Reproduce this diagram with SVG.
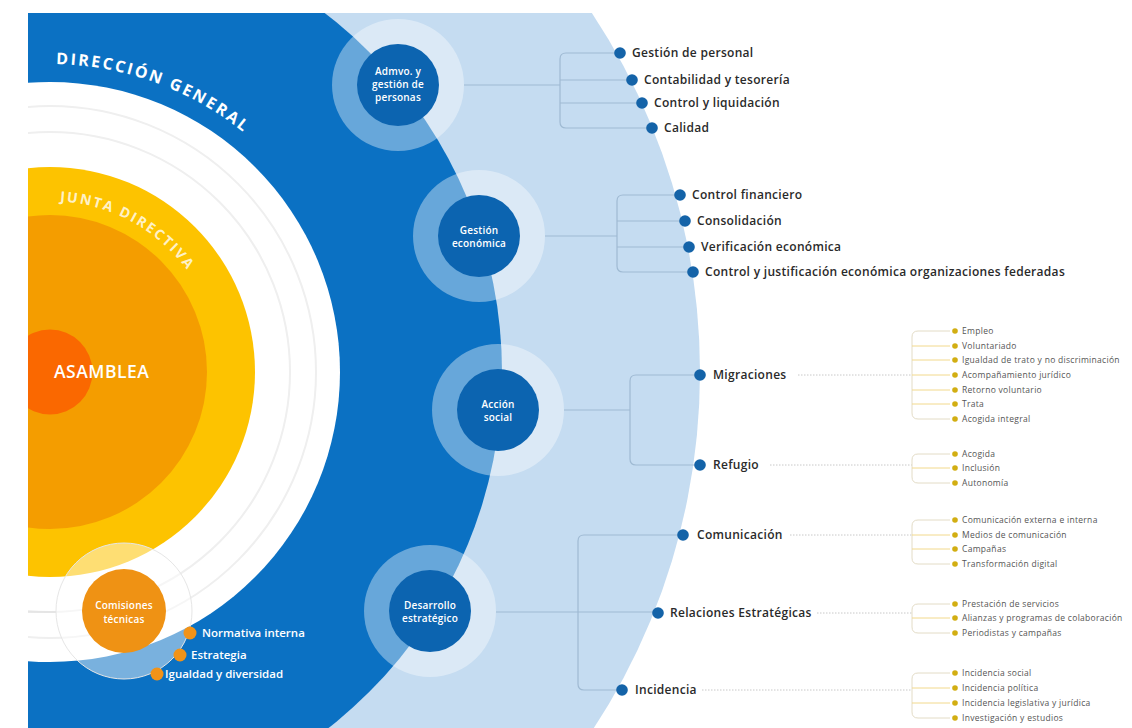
<svg xmlns="http://www.w3.org/2000/svg" width="1132" height="728" viewBox="0 0 1132 728">
<style>
.t1{font-family:"Open Sans","Liberation Sans",sans-serif;font-size:12px;font-weight:600;fill:#2a2a2a;letter-spacing:0.3px}
.t2{font-family:"Open Sans","Liberation Sans",sans-serif;font-size:8.5px;font-weight:400;fill:#555;letter-spacing:0.3px}
.tn{font-family:"Open Sans","Liberation Sans",sans-serif;font-size:10px;font-weight:600;fill:#fff;text-anchor:middle;letter-spacing:0.2px}
.tw{font-family:"Open Sans","Liberation Sans",sans-serif;font-size:11.5px;font-weight:600;fill:#fff}
.arc{font-family:"Open Sans","Liberation Sans",sans-serif;font-weight:700;fill:#fff}
.ring{fill:#fff;fill-opacity:0.38}
.core{fill:#0c64b0}
.d1{fill:#1463a8}
.d2{fill:#d2ae12}
.dc{fill:#f29318}
.l1{fill:none;stroke:#9fbad3;stroke-width:1.2}
.l2{fill:none;stroke:#c8c8c8;stroke-width:1;stroke-dasharray:1.5 1.5}
.lb{fill:none;stroke:#e3dcc6;stroke-width:1}
.lbr{fill:none;stroke:#f2d98c;stroke-width:1}
.faint{fill:none;stroke:#efefef;stroke-width:2}
</style>
<defs>
<clipPath id="frame"><rect x="28" y="13" width="1104" height="715"/></clipPath>
<path id="arcDG" d="M 50 64 A 308 308 0 0 1 339.4 266.7"/>
<path id="arcJD" d="M 50 201 A 171 171 0 0 1 210.7 313.5"/>
</defs>
<rect width="1132" height="728" fill="#fff"/>
<g id="background" clip-path="url(#frame)">
<circle cx="50" cy="372" r="650" fill="#c5dcf1"/>
<circle cx="50" cy="372" r="452" fill="#0b71c3"/>
<circle cx="50" cy="372" r="290" fill="#fff"/>
<circle class="faint" cx="50" cy="372" r="240"/>
<circle class="faint" cx="50" cy="372" r="266"/>
<line x1="28" y1="612" x2="56" y2="612" stroke="#e2e2e2" stroke-width="1.5"/>
</g>
<g id="direccion-general">
<text class="arc" font-size="16" letter-spacing="2.3"><textPath href="#arcDG" startOffset="6">DIRECCIÓN GENERAL</textPath></text>
</g>
<g id="junta-directiva" clip-path="url(#frame)">
<circle cx="50" cy="372" r="205" fill="#fdc300"/>
<circle cx="50" cy="372" r="157" fill="#f49d00"/>
<text class="arc" font-size="14" letter-spacing="2" fill-opacity="0.8"><textPath href="#arcJD" startOffset="10">JUNTA DIRECTIVA</textPath></text>
</g>
<g id="asamblea" clip-path="url(#frame)">
<circle cx="50" cy="372" r="42.5" fill="#fa6800"/>
<text x="54" y="378" font-family="Open Sans, Liberation Sans, sans-serif" font-size="17.5" font-weight="600" fill="#fff" letter-spacing="0.5">ASAMBLEA</text>
</g>
<g id="comisiones-tecnicas">
<circle cx="124" cy="611" r="68" fill="#fff" fill-opacity="0.45" stroke="#e6e6e6" stroke-width="1"/>
<circle cx="124" cy="611" r="42" fill="#ef9214"/>
<text class="tn" x="124" y="609" font-size="11" font-weight="400">Comisiones</text>
<text class="tn" x="124" y="623" font-size="11" font-weight="400">técnicas</text>
<circle class="dc" cx="190" cy="633" r="6.5"/>
<text class="tw" x="202" y="637">Normativa interna</text>
<circle class="dc" cx="180" cy="655" r="6.5"/>
<text class="tw" x="191" y="659">Estrategia</text>
<circle class="dc" cx="157" cy="674" r="6.5"/>
<text class="tw" x="165" y="678">Igualdad y diversidad</text>
</g>
<g id="connectors">
<path class="l1" d="M 464 85 H 560"/>
<path class="l1" d="M 620 53 H 566 Q 560 53 560 59 V 122 Q 560 128 566 128 H 652 M 560 80 H 632 M 560 103 H 642"/>
<path class="l1" d="M 545 236 H 617"/>
<path class="l1" d="M 680 195 H 623 Q 617 195 617 201 V 266 Q 617 272 623 272 H 693 M 617 221 H 685 M 617 247 H 689"/>
<path class="l1" d="M 564 410 H 630"/>
<path class="l1" d="M 700 375 H 636 Q 630 375 630 381 V 459 Q 630 465 636 465 H 700"/>
<path class="l1" d="M 496 612 H 658"/>
<path class="l1" d="M 683 535 H 584 Q 578 535 578 541 V 684 Q 578 690 584 690 H 622"/>
<path class="l2" d="M 798 375 H 912 M 770 465 H 912 M 790 535 H 912 M 817 613 H 912 M 702 690 H 912"/>
<path class="lb" d="M 950 331 H 918 Q 912 331 912 337 V 413 Q 912 419 918 419 H 950"/>
<path class="lbr" d="M 912 346 H 950 M 912 360 H 950 M 912 375 H 950 M 912 390 H 950 M 912 404 H 950"/>
<path class="lb" d="M 950 454 H 918 Q 912 454 912 460 V 477 Q 912 483 918 483 H 950"/>
<path class="lbr" d="M 912 468 H 950"/>
<path class="lb" d="M 950 520 H 918 Q 912 520 912 526 V 558 Q 912 564 918 564 H 950"/>
<path class="lbr" d="M 912 535 H 950 M 912 549 H 950"/>
<path class="lb" d="M 950 604 H 918 Q 912 604 912 610 V 627 Q 912 633 918 633 H 950"/>
<path class="lbr" d="M 912 618 H 950"/>
<path class="lb" d="M 950 673 H 918 Q 912 673 912 679 V 712 Q 912 718 918 718 H 950"/>
<path class="lbr" d="M 912 688 H 950 M 912 703 H 950"/>
</g>
<g id="node-admvo">
<circle class="ring" cx="398" cy="85" r="66"/>
<circle class="core" cx="398" cy="85" r="41"/>
<text class="tn" x="398" y="75">Admvo. y</text>
<text class="tn" x="398" y="88">gestión de</text>
<text class="tn" x="398" y="101">personas</text>
</g>
<g id="list-admvo">
<circle class="d1" cx="620" cy="53" r="5.8"/><text class="t1" x="632" y="57">Gestión de personal</text>
<circle class="d1" cx="632" cy="80" r="5.8"/><text class="t1" x="644" y="84">Contabilidad y tesorería</text>
<circle class="d1" cx="642" cy="103" r="5.8"/><text class="t1" x="654" y="107">Control y liquidación</text>
<circle class="d1" cx="652" cy="128" r="5.8"/><text class="t1" x="664" y="132">Calidad</text>
</g>
<g id="node-gestion-economica">
<circle class="ring" cx="479" cy="236" r="66"/>
<circle class="core" cx="479" cy="236" r="41"/>
<text class="tn" x="479" y="234">Gestión</text>
<text class="tn" x="479" y="247">económica</text>
</g>
<g id="list-gestion-economica">
<circle class="d1" cx="680" cy="195" r="5.8"/><text class="t1" x="692" y="199">Control financiero</text>
<circle class="d1" cx="685" cy="221" r="5.8"/><text class="t1" x="697" y="225">Consolidación</text>
<circle class="d1" cx="689" cy="247" r="5.8"/><text class="t1" x="701" y="251">Verificación económica</text>
<circle class="d1" cx="693" cy="272" r="5.8"/><text class="t1" x="705" y="276">Control y justificación económica organizaciones federadas</text>
</g>
<g id="node-accion-social">
<circle class="ring" cx="498" cy="410" r="66"/>
<circle class="core" cx="498" cy="410" r="41"/>
<text class="tn" x="498" y="408">Acción</text>
<text class="tn" x="498" y="421">social</text>
</g>
<g id="migraciones">
<circle class="d1" cx="700" cy="375" r="5.8"/><text class="t1" x="713" y="379">Migraciones</text>
<circle class="d2" cx="955" cy="331" r="2.8"/><text class="t2" x="962" y="334">Empleo</text>
<circle class="d2" cx="955" cy="346" r="2.8"/><text class="t2" x="962" y="349">Voluntariado</text>
<circle class="d2" cx="955" cy="360" r="2.8"/><text class="t2" x="962" y="363">Igualdad de trato y no discriminación</text>
<circle class="d2" cx="955" cy="375" r="2.8"/><text class="t2" x="962" y="378">Acompañamiento jurídico</text>
<circle class="d2" cx="955" cy="390" r="2.8"/><text class="t2" x="962" y="393">Retorno voluntario</text>
<circle class="d2" cx="955" cy="404" r="2.8"/><text class="t2" x="962" y="407">Trata</text>
<circle class="d2" cx="955" cy="419" r="2.8"/><text class="t2" x="962" y="422">Acogida integral</text>
</g>
<g id="refugio">
<circle class="d1" cx="700" cy="465" r="5.8"/><text class="t1" x="713" y="469">Refugio</text>
<circle class="d2" cx="955" cy="454" r="2.8"/><text class="t2" x="962" y="457">Acogida</text>
<circle class="d2" cx="955" cy="468" r="2.8"/><text class="t2" x="962" y="471">Inclusión</text>
<circle class="d2" cx="955" cy="483" r="2.8"/><text class="t2" x="962" y="486">Autonomía</text>
</g>
<g id="node-desarrollo-estrategico">
<circle class="ring" cx="430" cy="611" r="66"/>
<circle class="core" cx="430" cy="611" r="41"/>
<text class="tn" x="430" y="609">Desarrollo</text>
<text class="tn" x="430" y="622">estratégico</text>
</g>
<g id="comunicacion">
<circle class="d1" cx="683" cy="535" r="5.8"/><text class="t1" x="697" y="539">Comunicación</text>
<circle class="d2" cx="955" cy="520" r="2.8"/><text class="t2" x="962" y="523">Comunicación externa e interna</text>
<circle class="d2" cx="955" cy="535" r="2.8"/><text class="t2" x="962" y="538">Medios de comunicación</text>
<circle class="d2" cx="955" cy="549" r="2.8"/><text class="t2" x="962" y="552">Campañas</text>
<circle class="d2" cx="955" cy="564" r="2.8"/><text class="t2" x="962" y="567">Transformación digital</text>
</g>
<g id="relaciones-estrategicas">
<circle class="d1" cx="658" cy="613" r="5.8"/><text class="t1" x="670" y="617">Relaciones Estratégicas</text>
<circle class="d2" cx="955" cy="604" r="2.8"/><text class="t2" x="962" y="607">Prestación de servicios</text>
<circle class="d2" cx="955" cy="618" r="2.8"/><text class="t2" x="962" y="621">Alianzas y programas de colaboración</text>
<circle class="d2" cx="955" cy="633" r="2.8"/><text class="t2" x="962" y="636">Periodistas y campañas</text>
</g>
<g id="incidencia">
<circle class="d1" cx="622" cy="690" r="5.8"/><text class="t1" x="635" y="694">Incidencia</text>
<circle class="d2" cx="955" cy="673" r="2.8"/><text class="t2" x="962" y="676">Incidencia social</text>
<circle class="d2" cx="955" cy="688" r="2.8"/><text class="t2" x="962" y="691">Incidencia política</text>
<circle class="d2" cx="955" cy="703" r="2.8"/><text class="t2" x="962" y="706">Incidencia legislativa y jurídica</text>
<circle class="d2" cx="955" cy="718" r="2.8"/><text class="t2" x="962" y="721">Investigación y estudios</text>
</g>
</svg>
